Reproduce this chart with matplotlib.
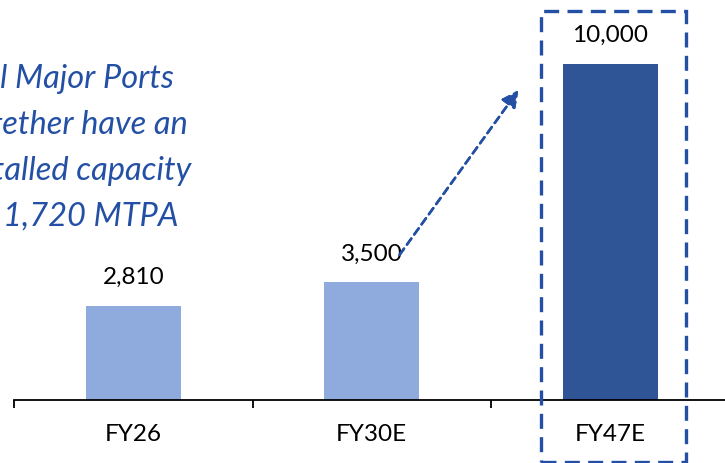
import matplotlib.pyplot as plt
from matplotlib.patches import Rectangle

# Dữ liệu
categories = ['FY26', 'FY30E', 'FY47E']
capacity = [2810, 3500, 10000]
bar_colors = ['#8FAADC', '#8FAADC', '#2F5597']
note_lines = ['All Major Ports', 'together have an', 'installed capacity', 'of 1,720 MTPA']

ACCENT = '#2350A5'
W, H = 725, 463

plt.rcParams['font.family'] = ['Lato', 'DejaVu Sans']

fig = plt.figure(figsize=(W / 100, H / 100), dpi=100)
# truc x keo dai qua mep phai giong anh goc
ax = fig.add_axes([14 / W, 1 - 400 / H, 715.5 / W, 336 / H])

x = range(len(categories))
bars = ax.bar(x, capacity, width=0.4, color=bar_colors)
ax.set_xlim(-0.5, 2.5)
ax.set_ylim(0, max(capacity))

for bar, v in zip(bars, capacity):
    ax.annotate(f'{v:,}', (bar.get_x() + bar.get_width() / 2, bar.get_height()),
                xytext=(0, 13), textcoords='offset points', ha='center', va='bottom',
                fontsize=17.5, color='black', annotation_clip=False)

for s in ['top', 'right', 'left']:
    ax.spines[s].set_visible(False)
ax.spines['bottom'].set_linewidth(1.3)
ax.set_yticks([])
ax.set_xticks([-0.5, 0.5, 1.5, 2.5])
ax.set_xticklabels([])
ax.tick_params(axis='x', which='major', length=6, width=1.3)
ax.set_xticks(list(x), minor=True)
ax.set_xticklabels(categories, minor=True, fontsize=17.5)
ax.tick_params(axis='x', which='minor', length=0, pad=17)

# Khung net dut quanh FY47E
fig.patches.append(Rectangle((541 / W, 1 - 462 / H), 145 / W, 451 / H,
                             transform=fig.transFigure, fill=False,
                             edgecolor=ACCENT, linewidth=2.4, linestyle=(0, (4.5, 2.5))))

# Mui ten net dut
fig.add_artist(plt.annotate('', xy=(520 / W, 1 - 88 / H), xytext=(398 / W, 1 - 257 / H),
                            xycoords='figure fraction', textcoords='figure fraction',
                            arrowprops=dict(arrowstyle='-|>,head_length=1.0,head_width=0.5',
                                            color=ACCENT, lw=1.8, linestyle=(0, (3, 2)))))

# Ghi chu ben trai (bi cat mot phan, nhu anh goc)
for i, line in enumerate(note_lines):
    fig.text(73 / W, 1 - (79 + i * 46) / H, line, ha='center', va='center',
             fontsize=23.5, style='italic', color=ACCENT)

plt.savefig('out.png', dpi=100)
